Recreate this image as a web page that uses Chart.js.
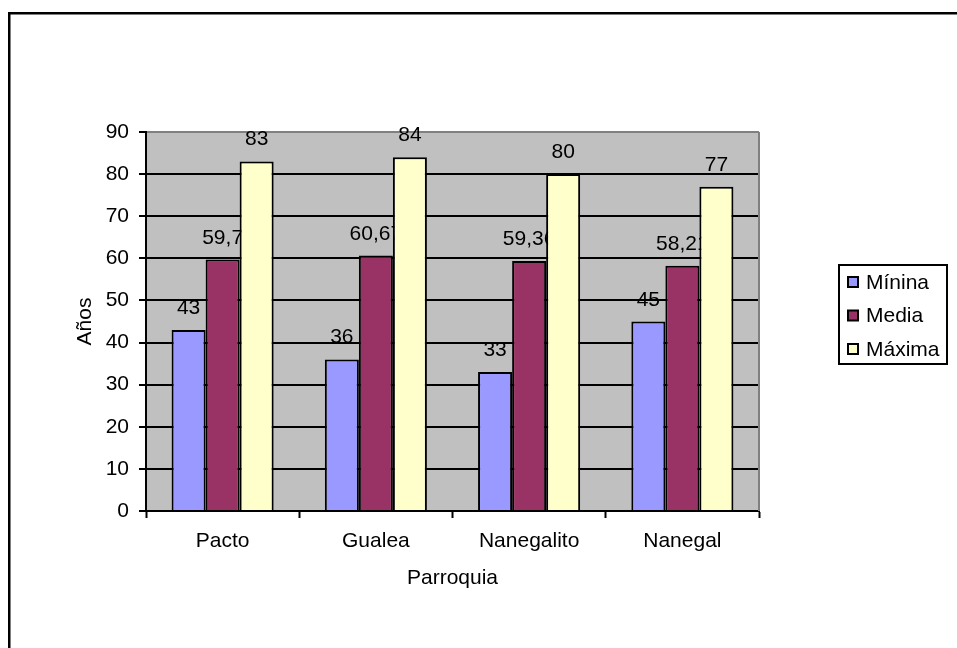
<!DOCTYPE html>
<html>
<head>
<meta charset="utf-8">
<script src="https://cdn.jsdelivr.net/npm/chart.js@4/dist/chart.umd.min.js"></script>
<style>
  html, body { margin: 0; padding: 0; background: #fff; }
  canvas { display: block; }
</style>
</head>
<body>
<canvas id="edadChart" width="957" height="648"></canvas>
<script>
const parroquias = ["Pacto", "Gualea", "Nanegalito", "Nanegal"];
const minima = [43, 36, 33, 45];
const media = [59.7, 60.67, 59.36, 58.21];
const maxima = [83, 84, 80, 77];
const seriesNames = ["Mínina", "Media", "Máxima"];
const seriesColors = ["#9999FF", "#993366", "#FFFFCC"];

const FONT = "'Liberation Sans', Arial, sans-serif";
const FSIZE = 21;

function fmt(v) {
  return String(v).replace(".", ",");
}

// gray plot background, outer frame, right border, labels, legend
const frame = {
  id: "frame",
  beforeDraw(chart) {
    const { ctx, chartArea: a } = chart;
    ctx.save();
    ctx.fillStyle = "#C0C0C0";
    ctx.fillRect(a.left, a.top, a.right - a.left, a.bottom - a.top);
    ctx.strokeStyle = "#000";
    ctx.lineWidth = 2.5;
    ctx.beginPath();
    ctx.moveTo(9.25, chart.height);
    ctx.lineTo(9.25, 13.25);
    ctx.lineTo(chart.width, 13.25);
    ctx.stroke();
    ctx.restore();
  },
  beforeDatasetsDraw(chart) {
    const { ctx, chartArea: a } = chart;
    ctx.save();
    ctx.strokeStyle = "#808080";
    ctx.lineWidth = 2;
    ctx.beginPath();
    ctx.moveTo(a.right, a.top);
    ctx.lineTo(a.right, a.bottom);
    ctx.stroke();

    // value labels, drawn before bars so the next bar covers them
    ctx.fillStyle = "#000";
    ctx.font = FSIZE + "px " + FONT;
    ctx.textAlign = "center";
    ctx.textBaseline = "alphabetic";
    chart.data.datasets.forEach((ds, i) => {
      const meta = chart.getDatasetMeta(i);
      meta.data.forEach((bar, j) => {
        ctx.fillText(fmt(ds.data[j]), bar.x, bar.y - 16);
      });
    });
    ctx.restore();
  },
  afterDraw(chart) {
    const { ctx, chartArea: a } = chart;
    const x0 = a.right + 80;
    const rowH = 33.5;
    const h = 99;
    const y0 = (a.top + a.bottom) / 2 - 7 - h / 2;
    ctx.save();
    ctx.strokeStyle = "#000";
    ctx.lineWidth = 2;
    ctx.strokeRect(x0, y0, 108, h);
    ctx.font = FSIZE + "px " + FONT;
    ctx.textBaseline = "middle";
    ctx.textAlign = "left";
    chart.data.datasets.forEach((ds, i) => {
      const cy = y0 + 17 + i * rowH;
      ctx.fillStyle = ds.backgroundColor;
      ctx.fillRect(x0 + 9, cy - 5, 10, 10);
      ctx.lineWidth = 2;
      ctx.strokeRect(x0 + 9, cy - 5, 10, 10);
      ctx.fillStyle = "#000";
      ctx.fillText(ds.label, x0 + 27, cy + 1);
    });
    ctx.restore();
  }
};

new Chart(document.getElementById("edadChart"), {
  type: "bar",
  data: {
    labels: parroquias,
    datasets: [
      { label: seriesNames[0], data: minima, backgroundColor: seriesColors[0] },
      { label: seriesNames[1], data: media, backgroundColor: seriesColors[1] },
      { label: seriesNames[2], data: maxima, backgroundColor: seriesColors[2] }
    ]
  },
  options: {
    responsive: false,
    animation: false,
    devicePixelRatio: 1,
    layout: { padding: { left: 0, top: 132, right: 198, bottom: 0 } },
    datasets: {
      bar: {
        borderColor: "#000",
        borderWidth: 2,
        categoryPercentage: 0.666,
        barPercentage: 1
      }
    },
    plugins: {
      legend: { display: false },
      tooltip: { enabled: false }
    },
    scales: {
      x: {
        afterFit(s) { s.height = 137; },
        border: { color: "#000", width: 2 },
        grid: {
          drawOnChartArea: false,
          drawTicks: true,
          tickLength: 7,
          tickColor: "#000",
          tickWidth: 2
        },
        ticks: {
          color: "#000",
          padding: 11,
          font: { family: FONT, size: FSIZE }
        },
        title: {
          display: true,
          text: "Parroquia",
          color: "#000",
          font: { family: FONT, size: FSIZE },
          padding: { top: 0, bottom: 57 }
        }
      },
      y: {
        min: 0,
        max: 90,
        afterFit(s) { s.width = 146; },
        border: { color: "#000", width: 2 },
        grid: {
          color: (c) => (c.tick && c.tick.value === 90 ? "#808080" : "#000"),
          lineWidth: 2,
          tickLength: 7,
          tickColor: "#000",
          tickWidth: 2
        },
        ticks: {
          stepSize: 10,
          color: "#000",
          padding: 10,
          font: { family: FONT, size: FSIZE }
        },
        title: {
          display: true,
          text: "Años",
          color: "#000",
          font: { family: FONT, size: FSIZE },
          padding: { top: 73, bottom: 0 }
        }
      }
    }
  },
  plugins: [frame]
});
</script>
</body>
</html>
